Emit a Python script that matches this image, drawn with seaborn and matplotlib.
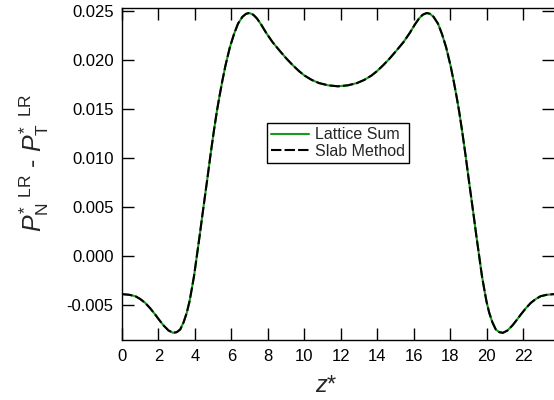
import matplotlib
matplotlib.use("Agg")
import matplotlib.pyplot as plt
import seaborn as sns
import pandas as pd

# z* positions and P*_N^LR - P*_T^LR values
z_vals = [0.00, 0.40, 0.73, 1.00, 1.27, 1.55, 1.82, 2.05, 2.28, 2.55, 2.80, 3.00,
          3.19, 3.38, 3.55, 3.70, 3.82, 3.95, 4.10, 4.25, 4.40, 4.55, 4.67, 4.85,
          5.04, 5.20, 5.33, 5.50, 5.67, 5.91, 6.14, 6.36, 6.60, 6.80, 6.98, 7.20,
          7.40, 7.64, 7.90, 8.25, 8.63, 9.00, 9.36, 9.70, 10.00, 10.40, 10.80, 11.30,
          11.84,
          12.38, 12.88, 13.28, 13.68, 13.98, 14.32, 14.68, 15.05, 15.43, 15.78, 16.04,
          16.28, 16.48, 16.70, 16.88, 17.08, 17.32, 17.54, 17.77, 18.01, 18.18, 18.35,
          18.48, 18.64, 18.83, 19.01, 19.13, 19.28, 19.43, 19.58, 19.73, 19.86, 19.98,
          20.13, 20.30, 20.49, 20.68, 20.88, 21.13, 21.40, 21.63, 21.86, 22.13, 22.41,
          22.68, 22.95, 23.28, 23.68]

lattice_sum = [-0.00385, -0.00392, -0.00406, -0.00435, -0.00474, -0.00530, -0.00593,
               -0.00650, -0.00704, -0.00755, -0.00779, -0.00772, -0.00745, -0.00670,
               -0.00575, -0.00460, -0.00338, -0.00200, 0.00000, 0.00200, 0.00410,
               0.00615, 0.00778, 0.01030, 0.01280, 0.01475, 0.01615, 0.01785, 0.01940,
               0.02125, 0.02262, 0.02368, 0.02437, 0.02468, 0.02476, 0.02458, 0.02420,
               0.02355, 0.02275, 0.02180, 0.02095, 0.02015, 0.01945, 0.01885, 0.01840,
               0.01795, 0.01763, 0.01740,
               0.01730,
               0.01740, 0.01763, 0.01795, 0.01840, 0.01885, 0.01945, 0.02015, 0.02095,
               0.02180, 0.02275, 0.02355, 0.02420, 0.02458, 0.02476, 0.02468, 0.02437,
               0.02368, 0.02262, 0.02125, 0.01940, 0.01785, 0.01615, 0.01475, 0.01280,
               0.01030, 0.00778, 0.00615, 0.00410, 0.00200, 0.00000, -0.00200, -0.00338,
               -0.00460, -0.00575, -0.00670, -0.00745, -0.00772, -0.00779, -0.00755,
               -0.00704, -0.00650, -0.00593, -0.00530, -0.00474, -0.00435, -0.00406,
               -0.00392, -0.00385]

slab_method = list(lattice_sum)

x_ticks = [0, 2, 4, 6, 8, 10, 12, 14, 16, 18, 20, 22]
y_ticks = [-0.005, 0.000, 0.005, 0.010, 0.015, 0.020, 0.025]

sns.set_style("ticks")
plt.rcParams['font.family'] = ['Liberation Sans', 'DejaVu Sans']
plt.rcParams['axes.unicode_minus'] = False
plt.rcParams['mathtext.fontset'] = 'custom'
plt.rcParams['mathtext.rm'] = 'Liberation Sans'
plt.rcParams['mathtext.it'] = 'Liberation Sans:italic'

df = pd.DataFrame({"z": z_vals, "lattice": lattice_sum, "slab": slab_method})

fig = plt.figure(figsize=(5.54, 4.0), dpi=100)
ax = fig.add_axes([0.2202, 0.149, 0.7798, 0.831])

sns.lineplot(data=df, x="z", y="lattice", ax=ax, color="#1a9a1a", linewidth=1.5,
             label="Lattice Sum", sort=False)
sns.lineplot(data=df, x="z", y="slab", ax=ax, color="black", linewidth=1.5,
             linestyle=(0, (5, 1.5)), label="Slab Method", sort=False)

ax.set_xlim(0, 23.68)
ax.set_ylim(-0.00856, 0.02527)
ax.set_xticks(x_ticks)
ax.set_yticks(y_ticks)
ax.set_yticklabels([f"{v:.3f}" for v in y_ticks])

for side in ["left", "right", "top", "bottom"]:
    ax.spines[side].set_visible(True)
    ax.spines[side].set_linewidth(1.0)
    ax.spines[side].set_color("black")
ax.spines["right"].set_visible(False)

ax.tick_params(axis="both", which="major", direction="in", length=8.5, width=1.0,
               labelsize=12, colors="black", top=True, right=True)
ax.tick_params(axis="y", pad=6)
ax.tick_params(axis="x", pad=6)

ax.set_xlabel(r"$z$*", fontsize=17)
ax.set_ylabel(r"$P^{*\ \ \mathrm{LR}}_{\mathrm{N}}$ - $P^{*\ \ \mathrm{LR}}_{\mathrm{T}}$",
              fontsize=18)
# label positions in figure pixels -> axes fraction
ax_left, ax_bottom, ax_w, ax_h = 122.0, 59.6, 432.0, 332.4
ax.yaxis.set_label_coords((34 - ax_left) / ax_w, (400 - 162.5 - ax_bottom) / ax_h)
ax.xaxis.set_label_coords((326 - ax_left) / ax_w, (400 - 386 - ax_bottom) / ax_h)
ax.xaxis.label.set_va("center")
ax.yaxis.label.set_va("center")

leg = ax.legend(loc="center", bbox_to_anchor=(0.5, 0.594), fontsize=11.5,
                frameon=True, fancybox=False, shadow=False, handlelength=2.4,
                borderpad=0.25, labelspacing=0.1, handletextpad=0.4, borderaxespad=0)
leg.get_frame().set_edgecolor("black")
leg.get_frame().set_linewidth(1.0)
leg.get_frame().set_alpha(1)

fig.savefig("out.png", dpi=100)
